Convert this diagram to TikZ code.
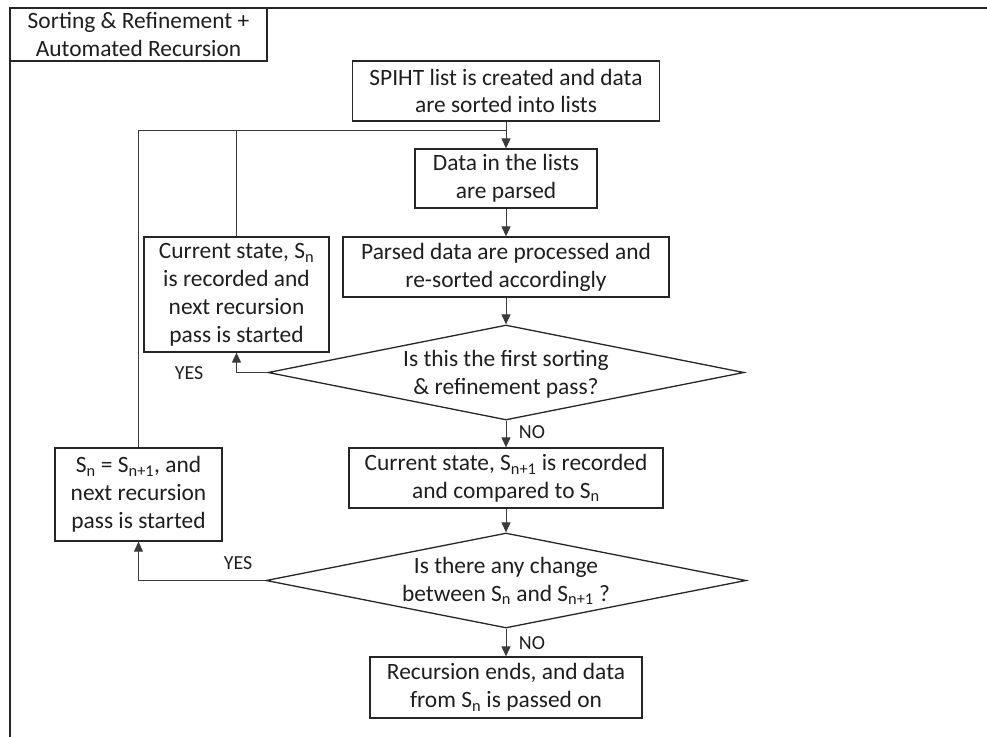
\documentclass[tikz,border=0pt]{standalone}
\usepackage{fontspec}
\setmainfont{Carlito}
\usetikzlibrary{shapes.geometric,arrows.meta}
\newcommand\SubN{S\textsubscript{n}}
\newcommand\SubNN{S\textsubscript{n+1}}
\definecolor{boxc}{HTML}{262626}
\definecolor{linec}{HTML}{3A3A3A}
\definecolor{txtc}{HTML}{1E1E1E}
\begin{document}
\begin{tikzpicture}[x=1bp,y=-1bp,
  txt/.style={font=\fontsize{23.5}{28}\selectfont, text=txtc, align=center},
  box/.style={txt, draw=boxc, line width=1.3bp, rectangle, inner sep=0pt},
  dia/.style={draw=boxc, line width=1.3bp, diamond, inner sep=0pt},
  dtext/.style={txt, inner sep=0pt},
  lab/.style={font=\fontsize{20}{22}\selectfont, text=txtc, inner sep=0pt},
  conn/.style={draw=linec, line width=1bp},
  arr/.style={conn, -{Triangle[length=10bp,width=9bp]}}]
\useasboundingbox (0,0) rectangle (987,737);
% outer frame
\draw[draw=boxc, line width=1.3bp] (10,737) -- (10,8) -- (987,8);
\node[box, minimum width=257bp, minimum height=53bp] (title) at (138.5,34.5) {Sorting \& Refinement +\\Automated Recursion};
% flow boxes
\node[box, minimum width=307bp, minimum height=60bp] (spiht) at (506,91) {SPIHT list is created and data\\are sorted into lists};
\node[box, minimum width=182bp, minimum height=59bp] (data) at (506,178.5) {Data in the lists\\are parsed};
\node[box, minimum width=326bp, minimum height=60bp] (parsed) at (506,267) {Parsed data are processed and\\re-sorted accordingly};
\node[box, minimum width=185bp, minimum height=115bp] (cs1) at (236.5,294.5) {Current state, \SubN\\is recorded and\\next recursion\\pass is started};
\node[dia, minimum width=476bp, minimum height=95bp] (d1) at (506,372.5) {};
\node[dtext] (d1t) at (506,374) {Is this the first sorting\\\& refinement pass?};
\node[box, minimum width=314bp, minimum height=60bp] (csn1) at (506,478) {Current state, \SubNN{} is recorded\\and compared to \SubN};
\node[dia, minimum width=480bp, minimum height=95bp] (d2) at (506,580.5) {};
\node[dtext] (d2t) at (506,581) {Is there any change\\between \SubN{} and \SubNN{} ?};
\node[box, minimum width=167bp, minimum height=93bp] (sn) at (138.5,494.5) {\SubN{} = \SubNN, and\\next recursion\\pass is started};
\node[box, minimum width=272bp, minimum height=61bp] (rec) at (506,687.5) {Recursion ends, and data\\from \SubN{} is passed on};
% labels
\node[lab] (yes1) at (189,373) {YES};
\node[lab] (no1) at (532,432) {NO};
\node[lab] (yes2) at (238,563) {YES};
\node[lab] (no2) at (532,643) {NO};
% connectors
\coordinate (jn) at (506,130);
\draw[arr] (spiht.south) -- (data.north);
\draw[arr] (data.south) -- (parsed.north);
\draw[arr] (parsed.south) -- (d1.north);
\draw[arr] (d1.west) -| (cs1.south);
\draw[arr] (d1.south) -- (csn1.north);
\draw[arr] (csn1.south) -- (d2.north);
\draw[arr] (d2.west) -| (sn.south);
\draw[arr] (d2.south) -- (rec.north);
\draw[conn] (cs1.north) |- (jn);
\draw[conn] (sn.north) |- (jn);
\end{tikzpicture}
\end{document}
